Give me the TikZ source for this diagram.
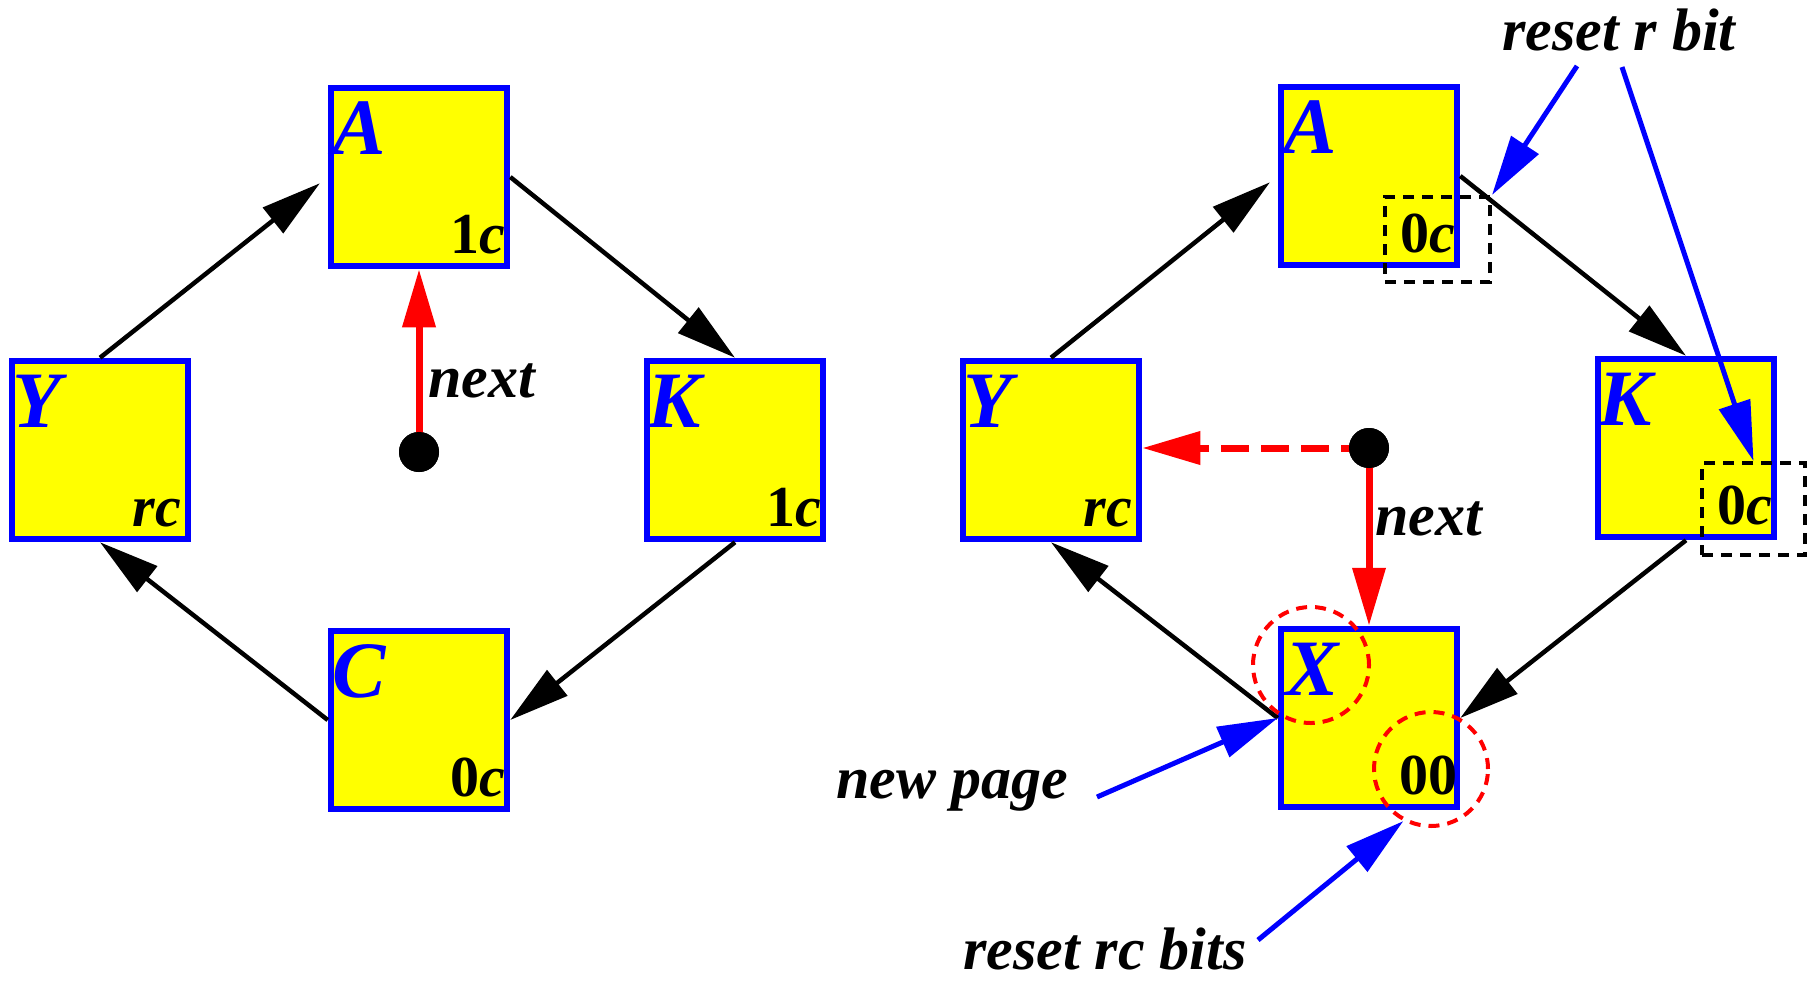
\documentclass[tikz,border=0pt]{standalone}
\usepackage{fontspec}
\setmainfont{Liberation Serif}
\usetikzlibrary{arrows.meta,calc}
\definecolor{pageblue}{RGB}{0,0,255}
\definecolor{pageyellow}{RGB}{255,255,0}
\definecolor{ptrred}{RGB}{255,0,0}
\begin{document}
\begin{tikzpicture}[x=1pt,y=-1pt,
  page/.style={draw=pageblue, fill=pageyellow, line width=6.5pt,
    minimum width=176pt, minimum height=178pt, inner sep=0pt},
  pname/.style={anchor=base west, inner sep=0pt, text=pageblue,
    font=\fontsize{80}{80}\selectfont\bfseries\itshape},
  bits/.style={anchor=base east, inner sep=0pt,
    font=\fontsize{58}{58}\selectfont\bfseries},
  note/.style={anchor=base west, inner sep=0pt,
    font=\fontsize{60}{60}\selectfont\bfseries\itshape},
  link/.style={draw=black, line width=4.5pt, -{Triangle[length=60pt,width=32pt]}},
  ptr/.style={draw=ptrred, line width=7pt, -{Triangle[length=58pt,width=32pt]}},
  hint/.style={draw=pageblue, line width=5pt, -{Triangle[length=60pt,width=32pt]}},
  cursor/.style={circle, fill=black, minimum size=40pt, inner sep=0pt},
  bitbox/.style={draw=black, line width=4pt, dash pattern=on 11pt off 8pt,
    inner sep=0pt},
  ring/.style={circle, draw=ptrred, line width=4pt, dash pattern=on 11pt off 8pt,
    inner sep=0pt}]
\useasboundingbox (0,0) rectangle (1816,983);

% ---------- clock before the fault ----------
\node[page] (A1) at (419,177) {};
\node[page] (Y1) at (100,450) {};
\node[page] (K1) at (735,450) {};
\node[page] (C1) at (419,720) {};

\draw[link, shorten >=10pt] (Y1.north) -- (A1.west);
\draw[link] (A1.east) -- (K1.north);
\draw[link] (K1.south) -- (C1.east);
\draw[link] (C1.west) -- (Y1.south);

\node[cursor] (d1) at (419,452) {};
\draw[ptr] (d1.center) -- (A1.south);
\node[cursor] at (d1) {};

\node[pname] at ($(A1.north west)+(5,70)$) {A};
\node[pname] at ($(Y1.north west)+(4,70)$) {Y};
\node[pname] at ($(K1.north west)+(4,70)$) {K};
\node[pname] at ($(C1.north west)+(5,70)$) {C};
\node[bits] at ($(A1.south east)+(-5,-16)$) {1\textit{c}};
\node[bits] at ($(Y1.south east)+(-10,-16)$) {\textit{rc}};
\node[bits] at ($(K1.south east)+(-5,-16)$) {1\textit{c}};
\node[bits] at ($(C1.south east)+(-5,-16)$) {0\textit{c}};
\node[note] (n1) at (428,397) {next};

% ---------- clock after the replacement ----------
\node[page] (A2) at (1369,176) {};
\node[page] (Y2) at (1051,450) {};
\node[page] (K2) at (1686,448) {};
\node[page] (X2) at (1369,718) {};

\draw[link, shorten >=10pt] (Y2.north) -- (A2.west);
\draw[link] (A2.east) -- (K2.north);
\draw[link] (K2.south) -- (X2.east);
\draw[link] (X2.west) -- (Y2.south);

\node[bitbox, minimum width=105pt, minimum height=85pt] (ra) at (1437.5,239.5) {};
\node[bitbox, minimum width=103pt, minimum height=92pt] (rk) at (1753.5,509) {};
\node[ring, minimum size=116pt] (cx) at (1311,665) {};
\node[ring, minimum size=114pt] (c00) at (1431,769) {};

\node[cursor] (d2) at (1369,448) {};
\draw[ptr, dash pattern=on 28pt off 12pt] (d2.center) -- (d2 -| Y2.east);
\draw[ptr] (d2.center) -- (X2.north);
\node[cursor] at (d2) {};

\node[pname] at ($(A2.north west)+(6,70)$) {A};
\node[pname] at ($(Y2.north west)+(4,70)$) {Y};
\node[pname] at ($(K2.north west)+(4,70)$) {K};
\node[pname] at ($(X2.north west)+(8,70)$) {X};
\node[bits] at ($(A2.south east)+(-5,-16)$) {0\textit{c}};
\node[bits] at ($(Y2.south east)+(-10,-16)$) {\textit{rc}};
\node[bits] at ($(K2.south east)+(-5,-16)$) {0\textit{c}};
\node[bits] at ($(X2.south east)+(-3,-16)$) {00};
\node[note] (n2) at (1375,535) {next};

% ---------- annotations ----------
\node[note] (rr) at (1502,50) {reset r bit};
\node[note] (np) at (836,798) {new page};
\node[note] (rcb) at (963,969) {reset rc bits};
\coordinate (h1) at (1577,66);
\coordinate (h2) at (1622,67);
\coordinate (h3) at (1097,797);
\coordinate (h4) at (1258,940);
\draw[hint] (h1) -- (ra.north east);
\draw[hint] (h2) -- (rk.north);
\draw[hint] (h3) -- (X2.west);
\draw[hint] (h4) -- (c00.242);
\end{tikzpicture}
\end{document}
